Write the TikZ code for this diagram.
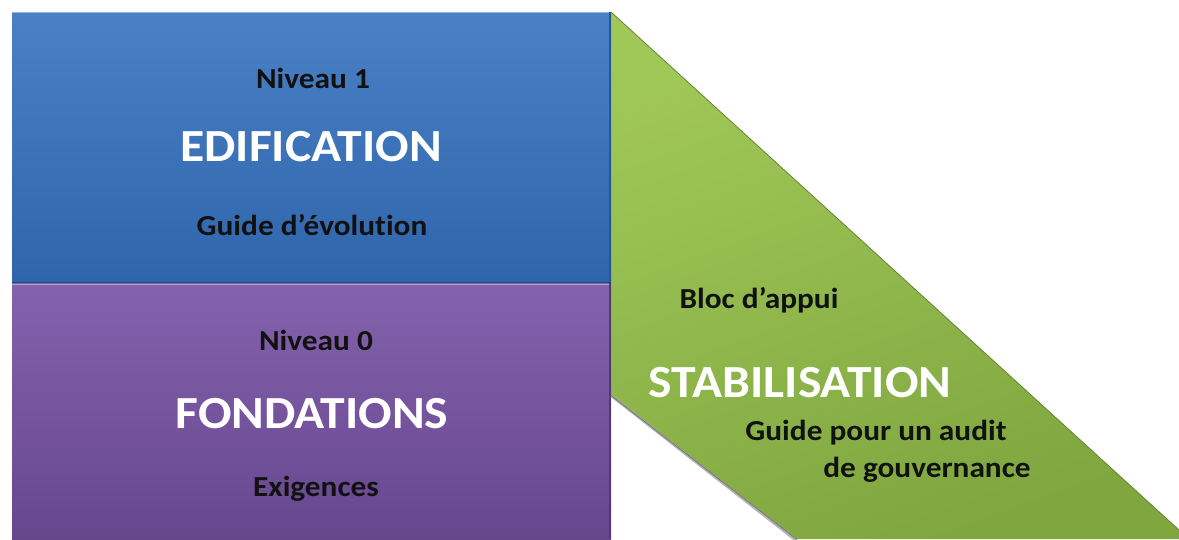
\documentclass[tikz,border=0pt]{standalone}
\usepackage{fontspec}
\setmainfont[Ligatures={NoCommon},FakeStretch=1.08]{Carlito}
\definecolor{bluetop}{HTML}{4A80C6}
\definecolor{bluebot}{HTML}{2F65AA}
\definecolor{purptop}{HTML}{8462AD}
\definecolor{purpbot}{HTML}{66478E}
\definecolor{greentop}{HTML}{A0C858}
\definecolor{greenbot}{HTML}{7FA63F}
\definecolor{txtdark}{HTML}{111111}
\tikzset{
  small/.style={font=\bfseries\fontsize{29}{31}\selectfont, text=txtdark, anchor=base, inner sep=0pt},
  big/.style={font=\bfseries\fontsize{46}{49}\selectfont, text=white, anchor=base, inner sep=0pt},
}
\begin{document}
\begin{tikzpicture}[x=1pt,y=-1pt]
\useasboundingbox (0,0) rectangle (1179,539);
\fill[white] (0,0) rectangle (1179,539);
% green band
\shade[top color=greentop, bottom color=greenbot, shading angle=20]
  (611,12) -- (1179,530) -- (1179,539) -- (797,539) -- (611,395) -- cycle;
\draw[greenbot!80!black, line width=0.8pt] (611,12) -- (1179,530);
\draw[black!30, line width=2.5pt] (612,396.5) -- (796,540.5);
\draw[black!55, line width=0.8pt] (611,395.5) -- (797,539.5);
% blue block
\shade[top color=bluetop, bottom color=bluebot] (12,12) rectangle (611,283);
\draw[bluetop!60!white, line width=1pt] (12,12.5) -- (611,12.5);
\draw[bluebot!85!black, line width=1.5pt] (610,12) -- (610,283);
% purple block
\shade[top color=purptop, bottom color=purpbot] (12,283) rectangle (611,539);
\draw[purptop!60!white, line width=1pt] (12,284) -- (611,284);
\draw[purpbot!80!black, line width=1.5pt] (610,283) -- (610,539);
\draw[bluebot!70!black, line width=1pt] (12,282.5) -- (611,282.5);
% texts
\node[small] (n1) at (313,88) {Niveau 1};
\node[big] (edif) at (311,161) {EDIFICATION};
\node[small] (g1) at (312,235) {Guide d’évolution};
\node[small] (n0) at (316,350) {Niveau 0};
\node[big] (fond) at (312,428) {FONDATIONS};
\node[small] (ex) at (316,496) {Exigences};
\node[small] (bloc) at (759,308) {Bloc d’appui};
\node[big] (stab) at (800,397) {STABILISATION};
\node[small] (g2a) at (876,440) {Guide pour un audit};
\node[small] (g2b) at (927,477) {de gouvernance};
\end{tikzpicture}
\end{document}
